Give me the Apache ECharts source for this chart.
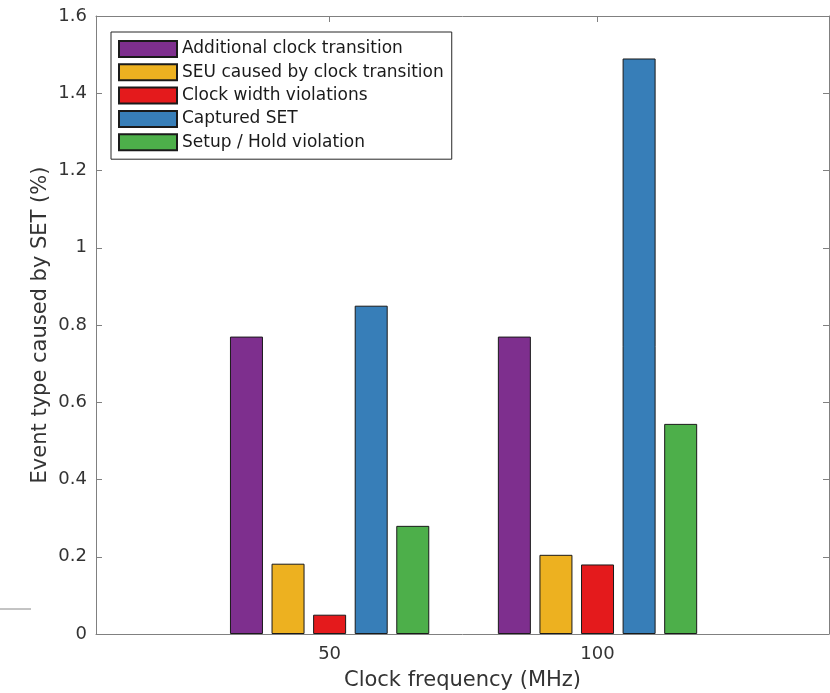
<!DOCTYPE html>
<html>
<head>
<meta charset="utf-8">
<script src="https://cdn.jsdelivr.net/npm/echarts@6/dist/echarts.min.js"></script>
<style>
  html, body { margin: 0; padding: 0; background: #fff; }
  #plot { width: 830px; height: 693px; }
</style>
</head>
<body>
<div id="plot"></div>
<script>
// 数据
var frequencies = [50, 100];
var seriesNames = [
  'Additional clock transition',
  'SEU caused by clock transition',
  'Clock width violations',
  'Captured SET',
  'Setup / Hold violation'
];
var seriesColors = ['#7e2f8e', '#edb120', '#e41a1c', '#377eb8', '#4daf4a'];
var additionalClock = [0.77, 0.77];
var seuClock = [0.182, 0.205];
var clockWidth = [0.05, 0.18];
var capturedSet = [0.85, 1.49];
var setupHold = [0.28, 0.544];

var allValues = [additionalClock, seuClock, clockWidth, capturedSet, setupHold];

var axisColor = '#808080';
var textColor = '#333333';
var fontFamily = 'DejaVu Sans';

var myChart = echarts.init(document.getElementById('plot'));

var series = allValues.map(function (vals, i) {
  return {
    name: seriesNames[i],
    type: 'bar',
    xAxisIndex: 0,
    yAxisIndex: 0,
    barWidth: 33,
    barGap: '26%',
    data: frequencies.map(function (f, j) { return [f, vals[j]]; }),
    itemStyle: {
      color: seriesColors[i],
      borderColor: '#1a1a1a',
      borderWidth: 1
    }
  };
});

var option = {
  animation: false,
  textStyle: { fontFamily: fontFamily },
  grid: { left: 96, right: 1, top: 16, bottom: 59, outerBoundsMode: 'none', containLabel: false },
  legend: {
    orient: 'vertical',
    left: 111,
    top: 32,
    padding: [8, 8, 8, 7],
    itemWidth: 58,
    itemHeight: 16,
    itemGap: 5.3,
    icon: 'rect',
    borderColor: '#262626',
    borderWidth: 1,
    backgroundColor: '#fff',
    data: seriesNames,
    textStyle: { fontFamily: fontFamily, fontSize: 17, color: '#1a1a1a' }
  },
  xAxis: [{
    type: 'value',
    min: 6.4,
    max: 143.2,
    name: 'Clock frequency (MHz)',
    nameLocation: 'middle',
    nameGap: 36,
    nameMoveOverlap: false,
    nameTextStyle: { fontSize: 21, color: textColor },
    axisLine: { show: true, lineStyle: { color: axisColor, width: 1 } },
    axisTick: { show: true, inside: true, length: 6, customValues: frequencies, lineStyle: { color: axisColor } },
    axisLabel: { customValues: frequencies, fontSize: 18, color: textColor, margin: 11 },
    splitLine: { show: false }
  }, {
    type: 'value',
    position: 'top',
    min: 6.4,
    max: 143.2,
    axisLine: { show: true, onZero: false, lineStyle: { color: axisColor, width: 1 } },
    axisTick: { show: true, inside: true, length: 6, customValues: frequencies, lineStyle: { color: axisColor } },
    axisLabel: { show: false },
    splitLine: { show: false }
  }],
  yAxis: [{
    type: 'value',
    min: 0,
    max: 1.6,
    interval: 0.2,
    name: 'Event type caused by SET (%)',
    nameLocation: 'middle',
    nameGap: 45,
    nameMoveOverlap: false,
    nameTextStyle: { fontSize: 21, color: textColor },
    axisLine: { show: true, lineStyle: { color: axisColor, width: 1 } },
    axisTick: { show: true, inside: true, length: 6, lineStyle: { color: axisColor } },
    axisLabel: {
      fontSize: 18,
      color: textColor,
      margin: 9,
      formatter: function (v) { return String(+v.toFixed(1)); }
    },
    splitLine: { show: false }
  }, {
    type: 'value',
    position: 'right',
    min: 0,
    max: 1.6,
    interval: 0.2,
    axisLine: { show: true, onZero: false, lineStyle: { color: axisColor, width: 1 } },
    axisTick: { show: true, inside: true, length: 6, lineStyle: { color: axisColor } },
    axisLabel: { show: false },
    splitLine: { show: false }
  }],
  graphic: [{
    type: 'line',
    shape: { x1: 0, y1: 609, x2: 31, y2: 609 },
    style: { stroke: '#888', lineWidth: 1 }
  }],
  series: series
};

myChart.setOption(option);
</script>
</body>
</html>
